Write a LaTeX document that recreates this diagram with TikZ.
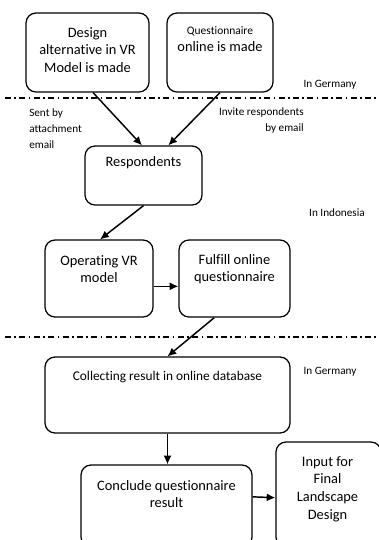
\documentclass[tikz,border=0pt]{standalone}
\usepackage{fontspec}
\setmainfont{Carlito}[Ligatures=NoCommon]
\usetikzlibrary{positioning, fit, calc, arrows.meta}
\tikzset{
	box/.style={draw, line width=0.95pt, rounded corners=7.5pt, inner sep=0pt},
	txt/.style={align=center, inner sep=0pt, font=\fontsize{10.8}{13.2}\selectfont},
	place/.style={inner sep=0pt, font=\fontsize{8.4}{12}\selectfont},
	sep/.style={line width=0.8pt, dash pattern=on 4.5pt off 2.5pt on 1.3pt off 2.5pt},
	flow/.style={-{Latex[length=6.5pt, width=6pt]}, line width=1.1pt},
}

\begin{document}
\begin{tikzpicture}[x=0.75pt, y=-0.75pt]
\clip (0,0) rectangle (379,540);

% boxes
\node[box, fit={(26,13) (149,92)}] (design) {};
\node[box, fit={(167,13) (273,92)}] (quest) {};
\node[box, fit={(85,146) (202,205)}] (resp) {};
\node[box, fit={(45,240) (153,317)}] (operate) {};
\node[box, fit={(179,240) (290,317)}] (fulfill) {};
\node[box, fit={(45,357) (290,433)}] (collect) {};
\node[box, fit={(81,465) (252,547)}] (conclude) {};
\node[box, fit={(276,442) (381,547)}] (input) {};

% box texts
\node[txt] (designtxt) at (87.5,50) {Design\\alternative in VR\\Model is made};
\node[txt] (questtxt) at (220,39) {{\fontsize{8.6}{10}\selectfont Questionnaire}\\online is made};
\node[txt] (resptxt) at (143.5,163) {Respondents};
\node[txt] (operatetxt) at (99,269) {Operating VR\\model};
\node[txt] (fulfilltxt) at (234.5,269) {Fulfill online\\questionnaire};
\node[txt, font=\fontsize{10}{12}\selectfont] (collecttxt) at (167.5,377) {Collecting result in online database};
\node[txt] (concludetxt) at (166.5,494) {Conclude questionnaire\\result};
\node[txt] (inputtxt) at (327.5,489) {Input for\\Final\\Landscape\\Design};

% places and notes
\node[place] (germany1) at (330,85) {In Germany};
\node[place] (indonesia) at (337,213) {In Indonesia};
\node[place] (germany2) at (330,372) {In Germany};
\node[place, align=left, anchor=west] (sent) at (29,129) {Sent by\\attachment\\email};
\node[place, align=right, anchor=east] (invite) at (304,121) {Invite respondents\\by email};

% separators
\draw[sep] (5,98) -- (379,98);
\draw[sep] (5,337) -- (379,337);

% arrows
\draw[flow] ($(design.south west)!0.545!(design.south east)$) -- ($(resp.north west)!0.487!(resp.north east)$);
\draw[flow] ($(quest.south west)!0.5!(quest.south east)$) -- ($(resp.north west)!0.71!(resp.north east)$);
\draw[flow] (resp.south) -- ($(operate.north west)!0.51!(operate.north east)$);
\draw[flow] ($(operate.north east)!0.6!(operate.south east)$) -- ($(fulfill.north west)!0.6!(fulfill.south west)$);
\draw[flow] ($(fulfill.south west)!0.32!(fulfill.south east)$) -- ($(collect.north west)!0.5!(collect.north east)$);
\draw[flow] (collect.south) -- (collect.south |- conclude.north);
\draw[flow] ($(conclude.north east)!0.39!(conclude.south east)$) -- ($(input.north west)!0.53!(input.south west)$);

\end{tikzpicture}
\end{document}
